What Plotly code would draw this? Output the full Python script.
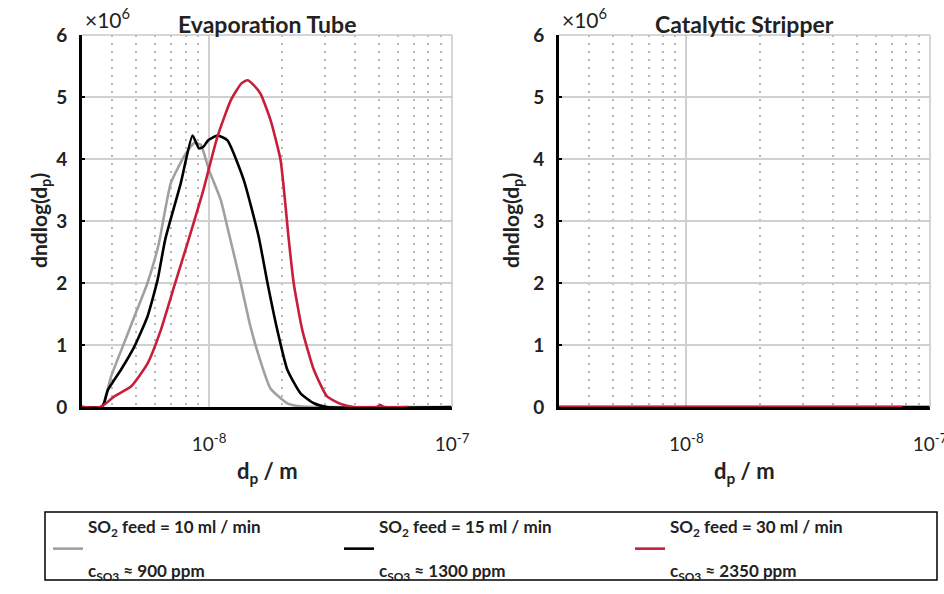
import plotly.graph_objects as go

# ---------------- data ----------------
# Evaporation Tube
et_dp_10 = [3.0e-9, 3.6e-9, 3.7e-9, 3.95e-9, 4.47e-9, 5.0e-9, 5.58e-9, 6.2e-9, 6.96e-9,
            7.89e-9, 8.4e-9, 8.7e-9, 9.24e-9, 1.0e-8, 1.117e-8, 1.19e-8, 1.35e-8, 1.48e-8,
            1.61e-8, 1.79e-8, 2.1e-8, 2.38e-8, 2.7e-8, 1.0e-7]
et_n_10 = [0, 0, 0.08, 0.49, 1.03, 1.52, 2.0, 2.62, 3.61,
           4.04, 4.2, 4.26, 4.23, 3.82, 3.34, 2.9, 2.0, 1.3,
           0.8, 0.3, 0.06, 0.01, 0, 0]

et_dp_15 = [3.0e-9, 3.6e-9, 3.69e-9, 3.83e-9, 4.34e-9, 4.92e-9, 5.58e-9, 6.14e-9, 6.6e-9,
            7.65e-9, 8.55e-9, 9.1e-9, 9.5e-9, 9.9e-9, 1.083e-8, 1.19e-8, 1.39e-8, 1.6e-8,
            1.74e-8, 1.91e-8, 2.1e-8, 2.38e-8, 2.7e-8, 3.06e-8, 1.0e-7]
et_n_15 = [0, 0, 0.05, 0.27, 0.6, 0.97, 1.46, 2.05, 2.7,
           3.61, 4.38, 4.17, 4.2, 4.3, 4.38, 4.3, 3.66, 2.75,
           2.0, 1.24, 0.6, 0.22, 0.06, 0, 0]

et_dp_30 = [3.0e-9, 3.59e-9, 4.07e-9, 4.77e-9, 5.58e-9, 6.33e-9, 7.18e-9, 8.15e-9, 9.4e-9,
            1.083e-8, 1.23e-8, 1.36e-8, 1.44e-8, 1.52e-8, 1.63e-8, 1.79e-8, 1.97e-8, 2.13e-8,
            2.23e-8, 2.42e-8, 2.7e-8, 3.06e-8, 3.48e-8, 3.93e-8, 4.9e-8, 5.07e-8, 5.25e-8, 6.6e-8]
et_n_30 = [0, 0, 0.17, 0.33, 0.7, 1.24, 1.94, 2.64, 3.45,
           4.36, 4.95, 5.22, 5.27, 5.2, 5.05, 4.63, 3.98, 2.69,
           2.0, 1.24, 0.6, 0.17, 0.05, 0, 0, 0.03, 0, 0]

# Catalytic Stripper (all zero)
cs_dp = [3.0e-9, 1.0e-8, 3.0e-8, 1.0e-7]
cs_n = [0, 0, 0, 0]
cs_dp_30 = [3.0e-9, 1.0e-8, 3.0e-8, 7.7e-8]
cs_n_30 = [0, 0, 0, 0]

legend_names = [
    "SO<sub>2</sub> feed = 10 ml / min<br> <br>c<sub>SO3</sub> \u2248 900 ppm",
    "SO<sub>2</sub> feed = 15 ml / min<br> <br>c<sub>SO3</sub> \u2248 1300 ppm",
    "SO<sub>2</sub> feed = 30 ml / min<br> <br>c<sub>SO3</sub> \u2248 2350 ppm",
]
colors = ["#a0a0a0", "#000000", "#c81e3c"]

x_tickvals = [1e-8, 1e-7]
x_ticktext = ["10<sup>-8</sup>", "10<sup>-7</sup>"]
x_minor = [3e-9, 4e-9, 5e-9, 6e-9, 7e-9, 8e-9, 9e-9,
           2e-8, 3e-8, 4e-8, 5e-8, 6e-8, 7e-8, 8e-8, 9e-8]
y_tickvals = [0, 1, 2, 3, 4, 5, 6]

# ---------------- figure ----------------
W, H = 944, 594
FONT = "Lato"

fig = go.Figure()

left_sets = [(et_dp_10, et_n_10), (et_dp_15, et_n_15), (et_dp_30, et_n_30)]
for i, (dp, n) in enumerate(left_sets):
    fig.add_trace(go.Scatter(x=dp, y=n, mode="lines", name=legend_names[i],
                             line=dict(color=colors[i], width=2.6, shape="spline",
                                       smoothing=0.5),
                             xaxis="x", yaxis="y", showlegend=True))

right_sets = [(cs_dp, cs_n), (cs_dp, cs_n), (cs_dp_30, cs_n_30)]
for i, (dp, n) in enumerate(right_sets):
    fig.add_trace(go.Scatter(x=dp, y=n, mode="lines", name=legend_names[i],
                             line=dict(color=colors[i], width=2.6),
                             xaxis="x2", yaxis="y2", showlegend=False))

def px_x(p):
    return p / W

def px_y(p):
    return 1 - p / H

xdom1 = [px_x(82), px_x(452)]
xdom2 = [px_x(559), px_x(930)]
ydom = [px_y(407), px_y(35)]

xaxis_common = dict(
    type="log", range=[-8.5229, -7], tickvals=x_tickvals, ticktext=x_ticktext,
    showgrid=True, gridcolor="#d0d0d0", gridwidth=1.5,
    showline=True, linecolor="black", linewidth=2.5, layer="below traces",
    ticks="", ticklabelstandoff=18, automargin=False, ticklabeloverflow="allow",
    tickfont=dict(family=FONT, size=19, color="#222"),
    minor=dict(tickvals=x_minor, showgrid=True, gridcolor="#b8b8b8",
               gridwidth=1.5, griddash="2px,6px", ticks=""),
    zeroline=False, fixedrange=True,
)
yaxis_common = dict(
    range=[0, 6], tickvals=y_tickvals, showgrid=True, gridcolor="#d0d0d0",
    gridwidth=1.5, showline=True, linecolor="black", linewidth=3,
    ticks="inside", ticklen=3, tickcolor="black", tickwidth=1.5,
    ticklabelstandoff=8, layer="below traces", automargin=False,
    tickfont=dict(family=FONT, size=19, color="#222", weight="bold"),
    zeroline=False, fixedrange=True,
)

fig.update_layout(
    width=W, height=H,
    margin=dict(l=0, r=0, t=0, b=0, autoexpand=False),
    paper_bgcolor="white", plot_bgcolor="white",
    xaxis=dict(domain=xdom1, anchor="y", **xaxis_common),
    yaxis=dict(domain=ydom, anchor="x", **yaxis_common),
    xaxis2=dict(domain=xdom2, anchor="y2", **xaxis_common),
    yaxis2=dict(domain=ydom, anchor="x2", **yaxis_common),
    legend=dict(
        orientation="h", x=px_x(48), y=px_y(549), xanchor="left", yanchor="middle",
        borderwidth=0, bgcolor="rgba(0,0,0,0)",
        font=dict(family=FONT, size=17, color="#222", weight="bold"),
        entrywidth=246, entrywidthmode="pixels", itemwidth=30,
        tracegroupgap=0,
    ),
    showlegend=True,
)

# legend frame
fig.add_shape(type="rect", xref="paper", yref="paper",
              x0=px_x(45), x1=px_x(937), y0=px_y(580), y1=px_y(512),
              line=dict(color="black", width=1.5), layer="below")

# light grey box (top and right borders)
for xr, yr in [("x", "y"), ("x2", "y2")]:
    fig.add_shape(type="line", xref=f"{xr} domain", yref=f"{yr} domain",
                  x0=0, x1=1, y0=1, y1=1, line=dict(color="#c8c8c8", width=1.5))
    fig.add_shape(type="line", xref=f"{xr} domain", yref=f"{yr} domain",
                  x0=1, x1=1, y0=0, y1=1, line=dict(color="#c8c8c8", width=1.5))

# titles, multipliers, axis labels
panels = [("Evaporation Tube", 82, 452, 40), ("Catalytic Stripper", 559, 930, 512)]
for title, xl, xr_, ytx in panels:
    xc = (xl + xr_) / 2
    fig.add_annotation(x=px_x(xc), y=px_y(24), xref="paper", yref="paper",
                       text=title, showarrow=False, xanchor="center", yanchor="middle",
                       font=dict(family=FONT, size=23, color="#222", weight="bold"))
    fig.add_annotation(x=px_x(xl + 1), y=px_y(34), xref="paper", yref="paper",
                       text="\u00d710<sup>6</sup>", showarrow=False,
                       xanchor="left", yanchor="bottom",
                       font=dict(family=FONT, size=21, color="#222"))
    fig.add_annotation(x=px_x(xc), y=px_y(472), xref="paper", yref="paper",
                       text="d<sub>p</sub> / m", showarrow=False,
                       xanchor="center", yanchor="middle",
                       font=dict(family=FONT, size=22, color="#222", weight="bold"))
    fig.add_annotation(x=px_x(ytx), y=px_y(221), xref="paper", yref="paper",
                       text="dndlog(d<sub>p</sub>)", showarrow=False, textangle=-90,
                       xanchor="center", yanchor="middle",
                       font=dict(family=FONT, size=21, color="#222", weight="bold"))

fig.write_html("out.html")
